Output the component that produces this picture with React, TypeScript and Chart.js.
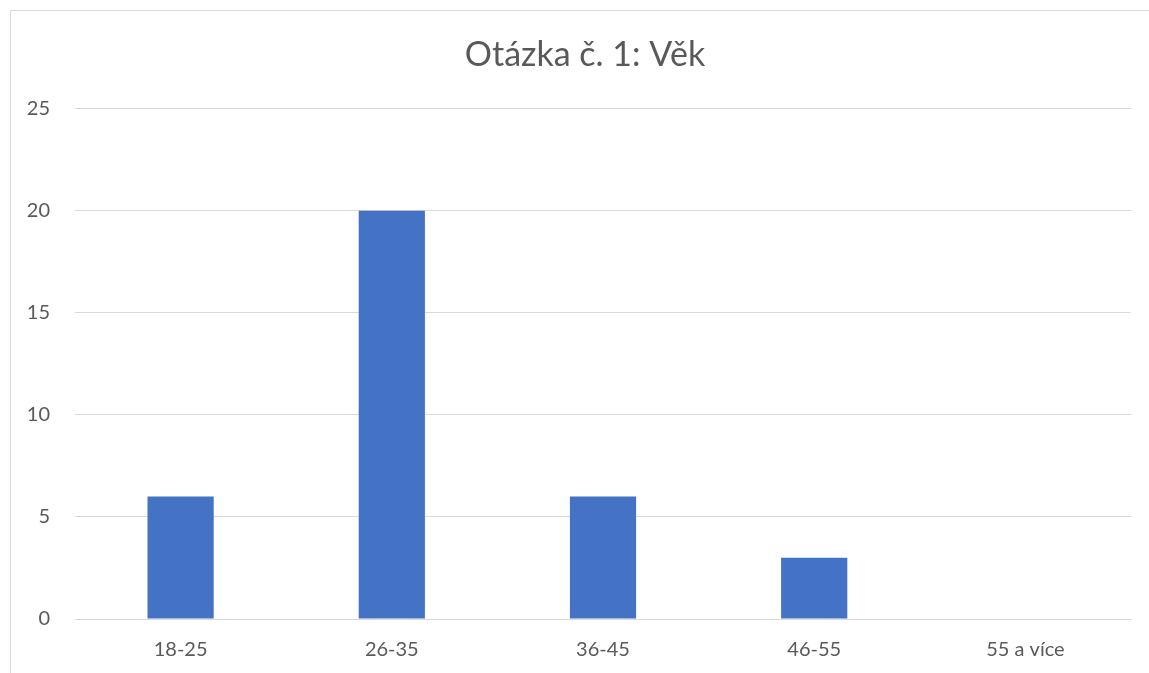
import React, { useEffect, useRef } from "react";
import { Chart, registerables } from "chart.js";

Chart.register(...registerables);

const categories = ["18-25", "26-35", "36-45", "46-55", "55 a více"];
const values = [6, 20, 6, 3, 0];
const yTicks = [0, 5, 10, 15, 20, 25];
const titleText = "Otázka č. 1: Věk";

export default function App() {
  const ref = useRef<HTMLCanvasElement | null>(null);
  useEffect(() => {
    if (!ref.current) return;
    const font = "Lato, 'Open Sans', sans-serif";
    const chart = new Chart(ref.current, {
      type: "bar",
      data: {
        labels: categories,
        datasets: [
          {
            data: values,
            backgroundColor: "#4472c4",
            barPercentage: 0.3135,
            categoryPercentage: 1,
            yAxisID: "y",
          },
        ],
      },
      options: {
        animation: false,
        responsive: false,
        maintainAspectRatio: false,
        layout: { padding: 0 },
        plugins: {
          legend: { display: false },
          tooltip: { enabled: false },
          title: {
            display: true,
            text: titleText,
            color: "#595959",
            font: { family: font, size: 34, weight: "normal" as any, lineHeight: 1.2 },
            padding: { top: 24, bottom: 33 },
          },
        },
        scales: {
          x: {
            grid: { display: false, drawTicks: false },
            border: { display: true, color: "#d9d9d9", width: 1 },
            ticks: {
              color: "#595959",
              font: { family: font, size: 20 },
              padding: 19,
              maxRotation: 0,
            },
            afterFit: (s: any) => {
              s.height = 72;
            },
          },
          y: {
            min: 0,
            max: 25,
            afterBuildTicks: (s: any) => {
              s.ticks = yTicks.map((v) => ({ value: v }));
            },
            grid: { color: "#d9d9d9", lineWidth: 1, drawTicks: false },
            border: { display: false },
            ticks: {
              color: "#595959",
              font: { family: font, size: 20 },
              padding: 25,
            },
            afterFit: (s: any) => {
              s.width = 64;
            },
          },
          yRight: {
            position: "right",
            display: true,
            min: 0,
            max: 25,
            grid: { display: false, drawTicks: false },
            border: { display: false },
            ticks: { display: false },
            afterFit: (s: any) => {
              s.width = 28;
            },
          },
        },
      },
    });
    return () => chart.destroy();
  }, []);
  return (
    <div
      style={{
        position: "fixed",
        left: 10,
        top: 10,
        width: 1160,
        height: 690,
        border: "1px solid #d9d9d9",
        background: "#fff",
      }}
    >
      <canvas ref={ref} width={1148} height={680} style={{ display: "block" }} />
    </div>
  );
}
